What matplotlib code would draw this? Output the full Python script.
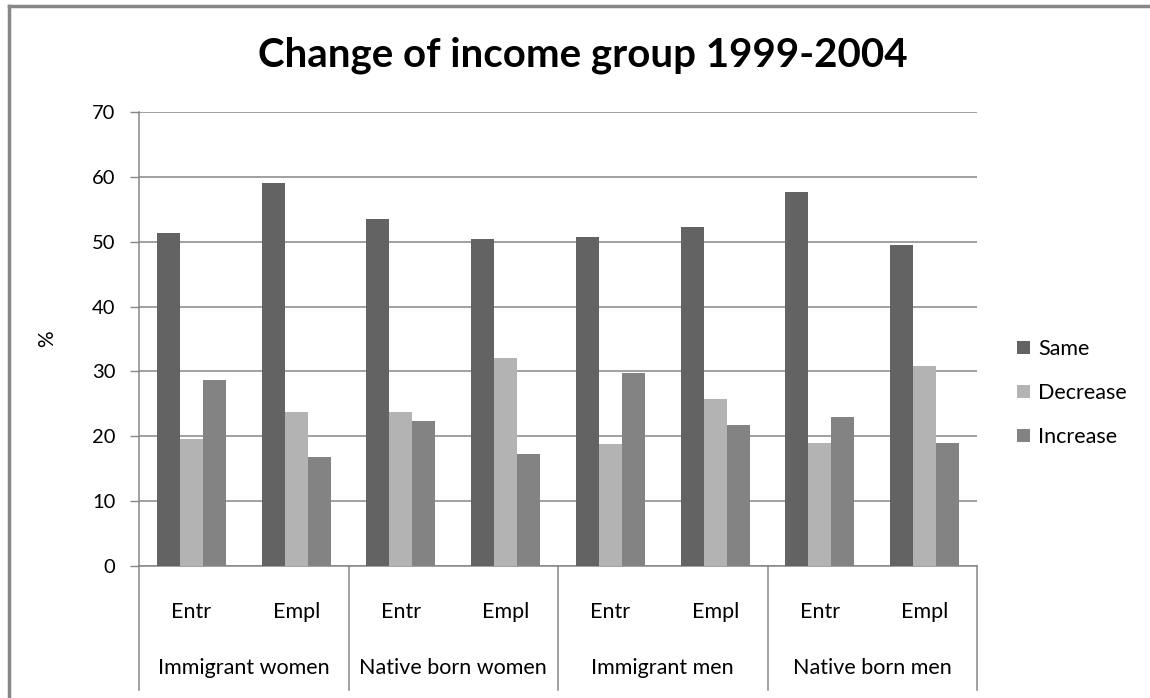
import numpy as np
import matplotlib
matplotlib.use("Agg")
import matplotlib.pyplot as plt
import matplotlib.transforms as mtransforms

plt.rcParams['font.family'] = ['Lato', 'DejaVu Sans']

groups = ["Immigrant women", "Native born women", "Immigrant men", "Native born men"]
subcats = ["Entr", "Empl"] * 4
series = ["Same", "Decrease", "Increase"]
same = [51.3, 59.0, 53.5, 50.4, 50.8, 52.2, 57.6, 49.5]
decrease = [19.6, 23.7, 23.7, 32.0, 18.8, 25.7, 19.0, 30.8]
increase = [28.7, 16.8, 22.3, 17.3, 29.7, 21.7, 23.0, 19.0]
colors = ["#636363", "#b3b3b3", "#838383"]

fig = plt.figure(figsize=(11.5, 6.98), dpi=100)
ax = fig.add_axes([0.1209, 0.1891, 0.7287, 0.6504])

x = np.arange(len(subcats))
w = 0.22
for i, (vals, name) in enumerate(zip([same, decrease, increase], series)):
    ax.bar(x + (i - 1) * w, vals, width=w, color=colors[i], label=name, zorder=3)

ax.set_xlim(-0.5, len(subcats) - 0.5)
ax.set_ylim(0, 70)
ax.set_yticks(range(0, 71, 10))
ax.tick_params(axis='y', length=6.5, width=1, color='#868686', labelsize=14.5, pad=10.5)
ax.yaxis.grid(True, color='#868686', linewidth=1.1, zorder=0)
ax.set_xticks([])
for s in ['top', 'right']:
    ax.spines[s].set_visible(False)
ax.spines['left'].set_color('#868686')
ax.spines['bottom'].set_color('#868686')
ax.spines['left'].set_linewidth(1.1)
ax.spines['bottom'].set_linewidth(1.1)

ax.set_ylabel("%", fontsize=15)
ax.yaxis.set_label_coords(-0.098, 0.5)

# category area below the axis
trans = mtransforms.blended_transform_factory(ax.transData, ax.transAxes)
for sep in np.arange(-0.5, len(subcats), 2):
    ax.plot([sep, sep], [0, -0.273], transform=trans, color='#868686',
            linewidth=1.1, clip_on=False)
for xi, lab in zip(x, subcats):
    ax.text(xi, -0.101, lab, transform=trans, ha='center', va='center', fontsize=15.5)
for gi, g in enumerate(groups):
    ax.text(gi * 2 + 0.5, -0.225, g, transform=trans, ha='center', va='center', fontsize=15.5)

fig.text(0.507, 0.921, "Change of income group 1999-2004", ha='center', va='center',
         fontsize=29, fontweight='bold')

leg = fig.legend(loc='center left', bbox_to_anchor=(0.8843, 0.437), frameon=False,
                 fontsize=15.5, handlelength=0.62, handleheight=0.55, handletextpad=0.37,
                 labelspacing=1.1, borderpad=0, borderaxespad=0)

# outer frame (left and top edges visible)
fig.add_artist(plt.Line2D([0.008, 0.008], [0, 0.992], transform=fig.transFigure,
                          color='#888888', linewidth=2.5))
fig.add_artist(plt.Line2D([0.008, 1.0], [0.992, 0.992], transform=fig.transFigure,
                          color='#888888', linewidth=2.5))

fig.savefig("out.png", dpi=100)
